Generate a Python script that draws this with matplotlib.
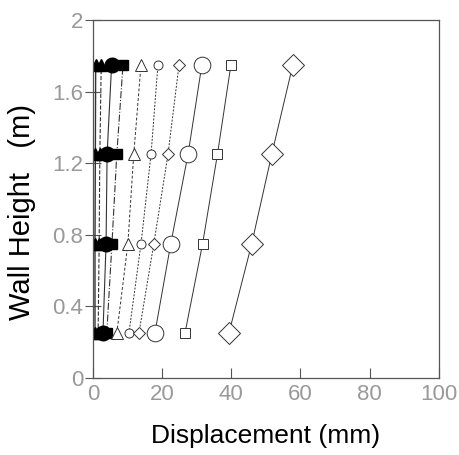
import matplotlib.pyplot as plt

plt.rcParams['font.family'] = ['Liberation Sans', 'DejaVu Sans']

heights = [0.25, 0.75, 1.25, 1.75]

# displacement (mm) for each load step
tri_fill_a = [0.6, 0.6, 0.7, 0.8]
tri_fill_b = [1.5, 1.8, 2.0, 2.4]
circ_fill = [2.9, 3.8, 4.1, 5.4]
sq_fill = [4.0, 5.5, 6.9, 8.7]
tri_open = [6.9, 10.1, 11.8, 13.9]
circ_small = [10.4, 13.9, 16.8, 18.8]
diam_small = [13.3, 17.6, 21.7, 24.9]
circ_big = [17.9, 22.5, 27.5, 31.5]
sq_open = [26.6, 31.7, 36.0, 39.9]
diam_big = [39.3, 45.9, 51.7, 57.8]

fig = plt.figure(figsize=(4.6, 4.55), dpi=100)
ax = fig.add_axes([0.202, 0.169, 0.752, 0.787])

lc = '#333333'
ax.plot(tri_fill_a, heights, color=lc, lw=1.0, marker='^', ms=9, mfc='black', mec='black')
ax.plot(tri_fill_b, heights, color=lc, lw=0.8, ls='--', marker='^', ms=9, mfc='black', mec='black')
ax.plot(sq_fill, heights, color=lc, lw=0.8, ls='-.', marker='s', ms=7.5, mfc='black', mec='black')
ax.plot(circ_fill, heights, color=lc, lw=0.8, marker='o', ms=10.5, mfc='black', mec='black')
ax.plot(tri_open, heights, color=lc, lw=0.7, ls=(0, (3, 2)), marker='^', ms=8, mfc='white', mec=lc, mew=0.7)
ax.plot(circ_small, heights, color=lc, lw=0.7, ls=(0, (2, 1.5)), marker='o', ms=6.5, mfc='white', mec=lc, mew=0.7)
ax.plot(diam_small, heights, color=lc, lw=0.7, ls=(0, (2, 1.5)), marker='D', ms=6, mfc='white', mec=lc, mew=0.7)
ax.plot(circ_big, heights, color=lc, lw=0.7, marker='o', ms=12, mfc='white', mec=lc, mew=0.7)
ax.plot(sq_open, heights, color=lc, lw=0.7, marker='s', ms=6.5, mfc='white', mec=lc, mew=0.7)
ax.plot(diam_big, heights, color=lc, lw=0.7, marker='D', ms=11, mfc='white', mec=lc, mew=0.7)

ax.set_xlim(0, 100)
ax.set_ylim(0, 2)
ax.set_xticks([0, 20, 40, 60, 80, 100])
ax.set_yticks([0, 0.4, 0.8, 1.2, 1.6, 2])
ax.set_yticklabels(['0', '0.4', '0.8', '1.2', '1.6', '2'])
ax.tick_params(axis='x', direction='in', length=7, labelsize=16, labelcolor='#999999', color='#555555', pad=4)
ax.tick_params(axis='y', direction='inout', length=12, labelsize=16, labelcolor='#999999', color='#555555', pad=1)
for s in ax.spines.values():
    s.set_color('#555555')
    s.set_linewidth(0.9)

ax.set_xlabel('Displacement (mm)', fontsize=19, labelpad=14)
ax.set_ylabel('Wall Height   (m)', fontsize=21)
ax.yaxis.set_label_coords(-0.165, 0.464)

fig.savefig('out.png', dpi=100)
